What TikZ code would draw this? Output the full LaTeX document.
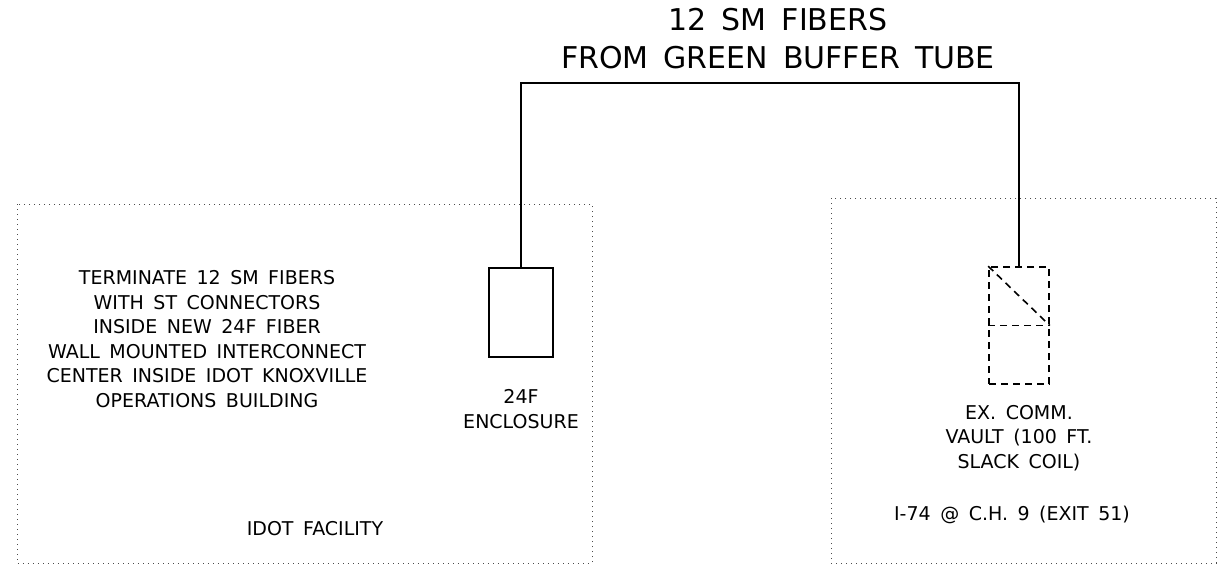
\documentclass[tikz,border=0pt]{standalone}
\usepackage{fontspec}
\setmainfont{DejaVu Sans}
\usetikzlibrary{positioning, calc}
\newcommand\notefont{\fontsize{19}{24.5}\selectfont\spaceskip 0.5em\relax}
\newcommand\titlefont{\fontsize{30}{38}\selectfont\spaceskip 0.5em\relax}

\begin{document}
\begin{tikzpicture}[
            x=1pt, y=-1pt,
            site/.style={draw=black!70, line width=0.9pt, dash pattern=on 1pt off 4pt},
            encl/.style={draw, line width=1.2pt, minimum width=64pt, minimum height=89pt, inner sep=0pt},
            vault/.style={draw, line width=1.6pt, dash pattern=on 7pt off 5pt, minimum width=60pt, minimum height=117pt, inner sep=0pt},
            cable/.style={draw, line width=1.6pt},
            note/.style={align=center, font=\notefont, inner sep=0pt},
            title/.style={align=center, font=\titlefont, inner sep=0pt}
        ]
            \useasboundingbox (0,0) rectangle (1219,566);
            % Sites
            \draw[site] (17,204) rectangle (592,563);
            \draw[site] (831,198) rectangle (1216,563);
            % Enclosure and vault
            \node[encl] (enc) at (521,312.5) {};
            \node[vault] (vlt) at (1019,325.5) {};
            \draw[vault] (vlt.west) -- (vlt.east);
            \draw[vault] (vlt.north west) -- (vlt.east);
            % Fiber run
            \coordinate (bend) at (521,83);
            \draw[cable] (enc.north) -- (bend) -| (vlt.north);
            \node[title] (fib) at (778,39) {12 SM FIBERS\\FROM GREEN BUFFER TUBE};
            % Labels
            \node[note] (term) at (207,339) {TERMINATE 12 SM FIBERS\\WITH ST CONNECTORS\\INSIDE NEW 24F FIBER\\WALL MOUNTED INTERCONNECT\\CENTER INSIDE IDOT KNOXVILLE\\OPERATIONS BUILDING};
            \node[note, below=32pt of enc] (encl-lbl) {24F\\ENCLOSURE};
            \node[note, below=20pt of vlt] (vlt-lbl) {EX. COMM.\\VAULT (100 FT.\\SLACK COIL)};
            \node[note] (idot) at (315,529) {IDOT FACILITY};
            \node[note] (exit) at (1012,515) {I-74 @ C.H. 9 (EXIT 51)};
        \end{tikzpicture}
\end{document}
